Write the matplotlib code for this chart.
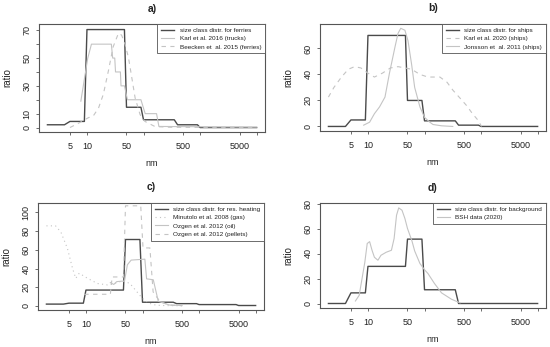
import matplotlib
matplotlib.use('Agg')
import matplotlib.pyplot as plt
import numpy as np

plt.rcParams['font.family'] = ['Liberation Sans', 'DejaVu Sans']

# ---- data ----
# a) ferries
ferry_x = [2, 4, 5, 9, 10, 46, 50, 90, 100, 350, 400, 900, 1000, 10000]
ferry_y = [2, 2, 4.4, 4.4, 70.5, 70.5, 14.6, 14.6, 5.6, 5.6, 2, 2, 0, 0]
karl16_x = [7.8, 10.3, 12, 27, 28.5, 31, 32, 39, 40, 46, 52, 90, 107, 170, 187, 10000]
karl16_y = [19, 49.7, 60, 60, 50, 50, 40, 40, 30, 30, 20, 20, 10, 10, 0.8, 0.3]
beecken_x = [5, 7, 10.5, 13, 16, 19.5, 24, 29, 36, 41, 47, 54, 62, 71, 87, 106, 160, 300, 10000]
beecken_y = [0, 3, 7, 8.5, 14, 24, 41, 58, 67.8, 66.5, 60, 50.7, 36, 21.4, 9.3, 4.4, 0.7, 0.2, 0.1]

# b) ships
ships_x = [2, 4, 5, 9, 10, 46, 50, 90, 100, 350, 400, 900, 1000, 10000]
ships_y = [0, 0, 5, 5, 70, 70, 20, 20, 4.3, 4.3, 1, 1, 0, 0]
karl20_x = [2, 2.5, 3.4, 4.5, 5.8, 7.5, 10, 13, 18, 25, 34, 45, 59, 83, 115, 187, 250, 316, 420, 556, 700, 890, 1020]
karl20_y = [22.6, 30, 38, 44, 46, 45, 41, 38, 41, 45, 46, 45, 44, 40, 38, 38, 34, 28, 22, 16, 10, 4.6, 0]
jons_x = [8.4, 10.7, 13, 16, 20, 24, 30, 34, 38, 45, 51, 59, 67, 83, 100, 124, 141, 200, 316]
jons_y = [1, 3.3, 9.8, 15, 22.6, 41, 61, 71.6, 75.5, 74, 66, 48, 30, 15, 7, 3.3, 1.5, 0.5, 0]

# c) residential heating
heat_x = [2, 4, 5, 9, 10, 46, 50, 90, 100, 350, 400, 900, 1000, 4500, 5000, 10000]
heat_y = [2, 2, 3, 3, 17, 17, 71, 71, 4, 4, 2.5, 2.5, 1.5, 1.5, 0.5, 0.5]
minu_x = [2, 2.9, 3.6, 4.7, 5.8, 6.6, 7.6, 10.7, 16, 24, 32, 45, 60, 80, 100, 130, 170, 220, 500]
minu_y = [85.6, 85.6, 79, 61.5, 40, 29.5, 35, 29.5, 24, 22.5, 24, 27, 24, 15, 8, 3, 1, 0.5, 0.2]
oil_x = [27, 31, 35, 43, 48, 54, 63, 110, 118, 155, 190, 300, 500]
oil_y = [25, 23, 26, 26.5, 26.5, 44, 49, 50, 29, 28, 5, 1, 0.5]
pell_x = [9.3, 27, 29, 46, 50, 93, 102, 135, 154, 204, 300, 500]
pell_y = [12.5, 12.5, 31, 31, 107, 107, 62, 62, 15, 4.6, 1, 0.3]

# d) background
bg_x = [2, 4, 5, 9, 10, 46, 50, 90, 100, 350, 400, 10000]
bg_y = [0, 0, 8.5, 8.5, 29.7, 29.7, 51.5, 51.5, 11, 11, 0, 0]
bsh_x = [6, 7, 8.8, 9.7, 10.7, 11.8, 13, 15, 17, 21, 26, 29, 32, 35, 40, 45, 50, 60, 67, 83, 100, 115, 150, 200, 300, 425]
bsh_y = [2, 6.6, 33, 48, 49.5, 42.6, 37, 34.6, 38.6, 41, 42.6, 52, 70.6, 76.5, 74.6, 68, 60, 50, 42, 32, 27, 24, 16, 8.5, 3.4, 0.5]

xticks = [5, 10, 50, 100, 500, 1000, 5000, 10000]
xlabels = ['5', '10', '50', '', '500', '', '5000', '']

dark = '#4a4a4a'
light = '#c4c4c4'
frame = '#555555'
txt = '#222222'

W, H = 550.0, 347.0
fig = plt.figure(figsize=(5.5, 3.47), dpi=100, facecolor='white')


def panel(box, title, ylim, yt, ylab):
    l, r, t, b = box
    ax = fig.add_axes([l / W, 1 - b / H, (r - l) / W, (b - t) / H])
    ax.set_xscale('log')
    ax.set_xlim(10 ** 0.152, 10 ** 4.148)
    ax.set_ylim(*ylim)
    ax.set_xticks(xticks)
    ax.set_xticklabels(xlabels)
    ax.minorticks_off()
    ax.set_yticks(yt)
    ax.set_yticklabels(ylab, rotation=90, va='center')
    for s in ax.spines.values():
        s.set_color(frame)
        s.set_linewidth(0.8)
    ax.tick_params(axis='both', length=2.5, width=0.6, color=frame,
                   labelsize=6.5, labelcolor=txt)
    ax.tick_params(axis='x', pad=5)
    ax.tick_params(axis='y', pad=3)
    ax.set_title(title, fontsize=7.5, fontweight='bold', pad=9, color=txt)
    ax.set_xlabel('nm', fontsize=6.5, labelpad=5.5, color=txt)
    ax.set_ylabel('ratio', fontsize=7, labelpad=7.5, color=txt)
    return ax


def leg(ax):
    lg = ax.legend(loc='upper right', bbox_to_anchor=(1, 1), borderaxespad=0,
                   fontsize=4.6, fancybox=False, framealpha=1,
                   edgecolor=frame, handlelength=2.1, handletextpad=0.8,
                   labelspacing=0.42, borderpad=0.6)
    lg.get_frame().set_linewidth(0.6)
    for t in lg.get_texts():
        t.set_color(txt)


# a)
ax = panel((39, 265, 24, 132), 'a)', (-3.2, 74.5), np.arange(0, 71, 10),
           ['0', '10', '', '30', '', '50', '', '70'])
ax.plot(ferry_x, ferry_y, color=dark, lw=1.0, label='size class distr. for ferries')
ax.plot(karl16_x, karl16_y, color=light, lw=0.8, label='Karl et al. 2016 (trucks)')
ax.plot(beecken_x, beecken_y, color=light, lw=0.8, dashes=(4, 4),
        label='Beecken et  al. 2015 (ferries)')
leg(ax)

# b)
ax = panel((320, 546, 24, 131), 'b)', (-3.5, 78.8), [0, 20, 40, 60],
           ['0', '20', '40', '60'])
ax.plot(ships_x, ships_y, color=dark, lw=1.0, label='size class distr. for ships')
ax.plot(karl20_x, karl20_y, color=light, lw=0.8, dashes=(4, 4),
        label='Karl et al. 2020 (ships)')
ax.plot(jons_x, jons_y, color=light, lw=0.8, label='Jonsson et  al. 2011 (ships)')
leg(ax)

# c)
ax = panel((38, 264, 203, 310), 'c)', (-4.3, 110), [0, 20, 40, 60, 80, 100],
           ['0', '20', '40', '60', '80', '100'])
ax.plot(heat_x, heat_y, color=dark, lw=1.0, label='size class distr. for res. heating')
ax.plot(minu_x, minu_y, color=light, lw=0.8, dashes=(1, 3),
        label='Minutolo et al. 2008 (gas)')
ax.plot(oil_x, oil_y, color=light, lw=0.8, label='Ozgen et al. 2012 (oil)')
ax.plot(pell_x, pell_y, color=light, lw=0.8, dashes=(4, 4),
        label='Ozgen et al. 2012 (pellets)')
leg(ax)

# d)
ax = panel((320, 546, 203, 308), 'd)', (-3.6, 80.4), [0, 20, 40, 60, 80],
           ['0', '20', '40', '60', '80'])
ax.plot(bg_x, bg_y, color=dark, lw=1.0, label='size class distr. for background')
ax.plot(bsh_x, bsh_y, color=light, lw=0.8, label='BSH data (2020)')
leg(ax)

fig.savefig('out.png', dpi=100, facecolor='white')
